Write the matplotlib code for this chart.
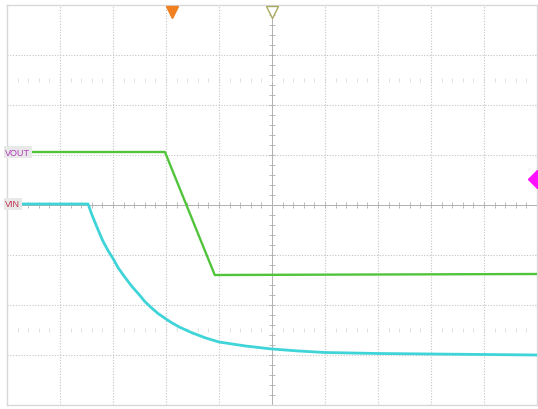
import matplotlib
matplotlib.use("Agg")
import matplotlib.pyplot as plt
import numpy as np

# Time axis in divisions (0..10), voltage axis in divisions (-4..4)
vout_t = [0.0, 2.98, 3.92, 10.0]
vout_v = [1.06, 1.06, -1.40, -1.38]

vin_t = [0.0, 1.53, 1.6, 1.7, 1.8, 1.9, 2.0, 2.1, 2.2, 2.35, 2.5, 2.6, 2.75,
         2.85, 3.0, 3.1, 3.25, 3.5, 3.75, 4.0, 4.5, 5.0, 5.5, 6.0, 7.0, 8.0,
         9.0, 10.0]
vin_v = [0.02, 0.02, -0.19, -0.45, -0.70, -0.90, -1.07, -1.26, -1.41, -1.62,
         -1.80, -1.93, -2.08, -2.17, -2.28, -2.35, -2.44, -2.56, -2.66, -2.74,
         -2.82, -2.88, -2.92, -2.95, -2.97, -2.98, -2.99, -3.0]

labels = ["VOUT", "VIN"]
label_levels = [1.06, 0.02]
label_colors = ["#b03cb8", "#c0304c"]

fig = plt.figure(figsize=(5.38, 4.10), dpi=100)
ax = fig.add_axes([7 / 538, 4 / 410, 530 / 538, 400 / 410])
ax.set_xlim(0, 10)
ax.set_ylim(-4, 4)
ax.set_xticks([])
ax.set_yticks([])
for s in ax.spines.values():
    s.set_color("#d8d8d8")
    s.set_linewidth(1.0)

grid_c = "#c4c4c4"
for x in range(1, 10):
    if x == 5:
        continue
    ax.axvline(x, color=grid_c, lw=0.8, ls=(0, (1, 1.5)), zorder=1)
for y in range(-3, 4):
    if y == 0:
        continue
    ax.axhline(y, color=grid_c, lw=0.8, ls=(0, (1, 1.5)), zorder=1)

# center cross
cc = "#b0b0b0"
ax.axhline(0, color=cc, lw=0.7, zorder=1)
ax.axvline(5, color=cc, lw=0.7, zorder=1)
minor_x = np.arange(0, 10.01, 0.2)
minor_y = np.arange(-4, 4.01, 0.2)
ax.plot(minor_x, np.zeros_like(minor_x), ls="none", marker="|", ms=5,
        mew=0.6, color=cc, zorder=1)
ax.plot(np.full_like(minor_y, 5), minor_y, ls="none", marker="_", ms=5,
        mew=0.6, color=cc, zorder=1)
# dotted tick rows at +/-2.5 div
for yy in (2.5, -2.5):
    ax.plot(minor_x, np.full_like(minor_x, yy), ls="none", marker="|", ms=3,
            mew=0.5, color="#d4d4d4", zorder=1)

# traces
ax.plot(vout_t, vout_v, color="#52c43c", lw=1.7, zorder=3)
ax.plot(vin_t, vin_v, color="#3fd4d8", lw=2.0, zorder=3)

# channel labels
for lab, lev, col in zip(labels, label_levels, label_colors):
    ax.text(-0.03, lev, lab, color=col, fontsize=6.5, family="Liberation Sans",
            va="center", ha="left", zorder=4,
            bbox=dict(boxstyle="square,pad=0.2", fc="#e8e8e8", ec="none"))

# markers
ax.plot([3.11], [3.87], marker="v", ms=8, color="#f08020", mec="#f08020",
        clip_on=False, zorder=5)
ax.plot([5.0], [3.86], marker="v", ms=9, mfc="white", mec="#a8a860",
        mew=1.0, clip_on=False, zorder=5)
ax.plot([10.0], [0.52], marker="D", ms=9, color="#ff10ff", clip_on=True,
        zorder=5)

fig.savefig("out.png", dpi=100)
